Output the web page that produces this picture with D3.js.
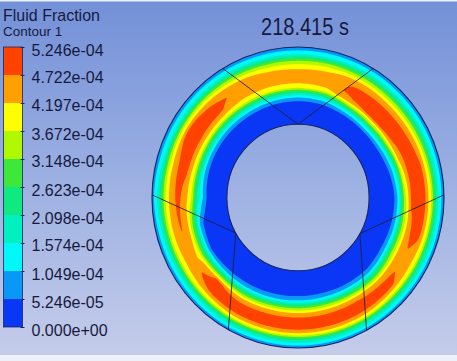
<!DOCTYPE html>
<html><head><meta charset="utf-8">
<script src="https://cdn.jsdelivr.net/npm/d3@7"></script>
<style>html,body{margin:0;padding:0;background:#fff;} svg{display:block;}</style>
</head><body>
<svg id="c" width="457" height="361"></svg>
<script>
// ---------------- data ----------------
const titleText = "Fluid Fraction";
const subtitleText = "Contour 1";
const timeText = "218.415 s";
const levels = [0, 5.246e-5, 1.049e-4, 1.574e-4, 2.098e-4, 2.623e-4, 3.148e-4, 3.672e-4, 4.197e-4, 4.722e-4, 5.246e-4];
const tickLabels = ["0.000e+00","5.246e-05","1.049e-04","1.574e-04","2.098e-04","2.623e-04","3.148e-04","3.672e-04","4.197e-04","4.722e-04","5.246e-04"];
const bandColors = ["#0a36f5","#0a98f8","#00f8f8","#00f0c0","#10e880","#3ee83a","#b0f800","#ffff00","#ffa000","#ff4200"];
// polar sampling of the field: angle in degrees (clockwise from east), radius in model units
const sampleAngles = [0,15,30,45,60,75,90,105,120,135,150,165,180,195,210,225,240,255,270,285,300,315,330,345];
const sampleRadii = [73.3, 88, 94, 99, 104, 110, 117, 124, 131, 137, 143, 150.5];
// fluid fraction x 1e-4, one row per sample angle, one column per sample radius
const fractionE4 = [
  [0, 0, 0.15, 0.45, 1.3, 3.4, 4.85, 5.0, 4.8, 3.8, 1.9, 0.6],
  [0, 0, 0.15, 0.45, 1.2, 3.0, 4.5, 4.95, 4.8, 3.8, 1.9, 0.6],
  [0, 0, 0.2, 0.5, 1.2, 3.0, 4.4, 4.6, 4.5, 3.8, 1.9, 0.6],
  [0, 0, 0.1, 0.35, 0.9, 2.5, 4.3, 4.9, 4.8, 3.8, 1.9, 0.6],
  [0, 0, 0.15, 0.45, 1.1, 2.8, 4.5, 5.0, 4.9, 4.0, 2.0, 0.6],
  [0, 0, 0.2, 0.55, 1.2, 3.0, 4.5, 5.0, 4.9, 4.0, 2.0, 0.6],
  [0, 0, 0.2, 0.55, 1.2, 3.0, 4.5, 5.0, 4.9, 4.0, 2.0, 0.6],
  [0, 0, 0.2, 0.5, 1.1, 2.9, 4.5, 5.0, 4.9, 4.0, 2.0, 0.6],
  [0, 0, 0.1, 0.4, 1.0, 2.6, 4.4, 5.0, 4.9, 4.0, 2.0, 0.6],
  [0, 0, 0.1, 0.3, 0.8, 2.6, 4.8, 5.0, 4.7, 3.8, 1.9, 0.6],
  [0, 0, 0.05, 0.2, 0.6, 2.2, 4.0, 4.5, 4.4, 3.6, 1.8, 0.6],
  [0, 0, 0.1, 0.3, 0.9, 2.6, 4.3, 4.75, 4.5, 3.6, 1.8, 0.6],
  [0, 0, 0.5, 1.2, 2.0, 3.7, 4.55, 4.85, 4.5, 3.6, 2.0, 0.7],
  [0, 0, 0.35, 1.0, 2.2, 3.9, 4.8, 4.9, 4.5, 3.5, 1.7, 0.6],
  [0, 0, 0.3, 1.0, 2.2, 4.0, 4.85, 5.0, 4.8, 3.6, 1.7, 0.6],
  [0, 0, 0.3, 1.0, 2.2, 4.0, 4.8, 4.9, 4.6, 3.5, 1.7, 0.6],
  [0, 0, 0.3, 1.0, 2.2, 3.9, 4.5, 4.6, 4.3, 3.3, 1.7, 0.6],
  [0, 0, 0.25, 0.9, 2.0, 3.8, 4.45, 4.5, 4.1, 3.1, 1.6, 0.6],
  [0, 0, 0.25, 0.85, 1.9, 3.8, 4.45, 4.5, 4.0, 3.1, 1.6, 0.6],
  [0, 0, 0.25, 0.9, 2.0, 3.9, 4.5, 4.5, 4.1, 3.2, 1.6, 0.6],
  [0, 0.05, 0.4, 1.3, 2.9, 4.6, 4.9, 4.8, 4.3, 3.2, 1.7, 0.6],
  [0, 0.1, 0.5, 1.5, 3.2, 4.8, 5.0, 4.9, 4.3, 3.2, 1.7, 0.6],
  [0, 0.05, 0.4, 1.2, 2.8, 4.6, 5.0, 4.95, 4.5, 3.4, 1.8, 0.6],
  [0, 0, 0.2, 0.7, 1.8, 4.0, 4.9, 5.0, 4.7, 3.6, 1.8, 0.6]
];
// mesh block edges: [angle, radius] vertices
const blockLines = [
  [[239, 150.5], [270, 73.3], [301, 150.5]],
  [[181, 150.5], [151, 73.3], [118.5, 150.5]],
  [[359, 150.5], [29.5, 73.3], [62, 150.5]]
];

// ---------------- layout ----------------
const W = 457, H = 361;
const cx = 298, cy = 197.5, sx = 0.97;
const R0 = sampleRadii[0], R1 = sampleRadii[sampleRadii.length - 1];
const svg = d3.select("#c");
const defs = svg.append("defs");

const bg = defs.append("linearGradient").attr("id","bg").attr("x1",0).attr("y1",0).attr("x2",0).attr("y2",1);
bg.append("stop").attr("offset","0%").attr("stop-color","#7390d8");
bg.append("stop").attr("offset","50%").attr("stop-color","#9cb0e2");
bg.append("stop").attr("offset","100%").attr("stop-color","#c6cdea");
svg.append("rect").attr("width",W).attr("height",H).attr("fill","url(#bg)");
svg.append("rect").attr("x",0).attr("y",355).attr("width",W).attr("height",6).attr("fill","#eef0f8");
svg.append("rect").attr("x",0).attr("y",0).attr("width",W).attr("height",1.5).attr("fill","#eef1fa");

// model -> pixel scales
const mx = d3.scaleLinear().domain([-R1, R1]).range([cx - R1*sx, cx + R1*sx]);
const my = d3.scaleLinear().domain([-R1, R1]).range([cy - R1, cy + R1]);
const rad = d => d * Math.PI / 180;

// field evaluation (bilinear in angle/radius)
const rowScales = fractionE4.map(row => d3.scaleLinear().domain(sampleRadii).range(row.map(v => v * 1e-4)).clamp(true));
const step = 360 / sampleAngles.length;
function fieldAt(u, v) {
  const r = Math.hypot(u, v);
  let th = Math.atan2(v, u) * 180 / Math.PI; if (th < 0) th += 360;
  const k = Math.floor(th / step) % sampleAngles.length;
  const t = (th - sampleAngles[k]) / step;
  const a = rowScales[k](r), b = rowScales[(k + 1) % sampleAngles.length](r);
  return a + (b - a) * t;
}

const n = 308, half = n / 2;
const values = new Float64Array(n * n);
for (let j = 0; j < n; j++) for (let i = 0; i < n; i++) values[j * n + i] = fieldAt(i - half + 0.5, j - half + 0.5);

const contours = d3.contours().size([n, n]).thresholds(levels.slice(1, -1))(values);
const proj = d3.geoTransform({ point(x, y) { this.stream.point(mx(x - half), my(y - half)); } });
const path = d3.geoPath(proj);

// clip ring
const ringArc = d3.arc().innerRadius(R0).outerRadius(R1).startAngle(0).endAngle(2 * Math.PI);
defs.append("clipPath").attr("id","ring").append("path")
  .attr("d", ringArc()).attr("transform", `translate(${cx},${cy}) scale(${sx},1)`);

const field = svg.append("g").attr("clip-path","url(#ring)");
field.append("ellipse").attr("cx",cx).attr("cy",cy).attr("rx",R1*sx+2).attr("ry",R1+2).attr("fill",bandColors[0]);
field.selectAll("path.band").data(contours).join("path").attr("class","band")
  .attr("d", path).attr("fill", (d, i) => bandColors[i + 1]);

// outlines
svg.append("ellipse").attr("cx",cx).attr("cy",cy).attr("rx",R1*sx).attr("ry",R1)
  .attr("fill","none").attr("stroke","#1c2660").attr("stroke-width",1.2);
svg.append("ellipse").attr("cx",cx).attr("cy",cy).attr("rx",R0*sx).attr("ry",R0)
  .attr("fill","none").attr("stroke","#1c2660").attr("stroke-width",1.1);

const lineGen = d3.line().x(p => mx(p[1] * Math.cos(rad(p[0])))).y(p => my(p[1] * Math.sin(rad(p[0]))));
svg.selectAll("path.block").data(blockLines).join("path").attr("class","block")
  .attr("d", lineGen).attr("fill","none").attr("stroke","#1e2030").attr("stroke-width",1).attr("stroke-opacity",0.85);

// ---------------- legend ----------------
const font = "'Liberation Sans', Arial, sans-serif";
const textColor = "#171a3e";
svg.append("text").attr("x",3).attr("y",20.5).text(titleText)
  .attr("font-family",font).attr("font-size",16).attr("fill",textColor);
svg.append("text").attr("x",3).attr("y",35.5).text(subtitleText)
  .attr("font-family",font).attr("font-size",13.5).attr("fill",textColor);

const ly = d3.scaleLinear().domain([levels[0], levels[levels.length - 1]]).range([327, 47]);
const barX = 3.5, barW = 19;
svg.selectAll("rect.band").data(bandColors).join("rect").attr("class","band")
  .attr("x", barX).attr("width", barW)
  .attr("y", (d, i) => ly(levels[i + 1])).attr("height", (d, i) => ly(levels[i]) - ly(levels[i + 1]))
  .attr("fill", d => d);
svg.append("rect").attr("x",barX).attr("y",ly(levels[levels.length-1])).attr("width",barW)
  .attr("height", ly(levels[0]) - ly(levels[levels.length-1]))
  .attr("fill","none").attr("stroke","#1c2660").attr("stroke-width",0.8);

const axis = d3.axisRight(ly).tickValues(levels).tickSize(3).tickPadding(6)
  .tickFormat((d, i) => tickLabels[i]);
const ax = svg.append("g").attr("transform", `translate(${barX + barW},0)`).call(axis);
ax.select(".domain").remove();
ax.selectAll(".tick line").attr("stroke","#1c2660").attr("x1",-2).attr("x2",2);
ax.selectAll(".tick text").attr("font-family",font).attr("font-size",16).attr("fill",textColor)
  .attr("dy","0.5em");

// time label
svg.append("text").attr("text-anchor","middle")
  .attr("transform", `translate(305,35) scale(1,1.17)`)
  .attr("font-family",font).attr("font-size",20).attr("fill",textColor).text(timeText);
</script>
</body></html>
